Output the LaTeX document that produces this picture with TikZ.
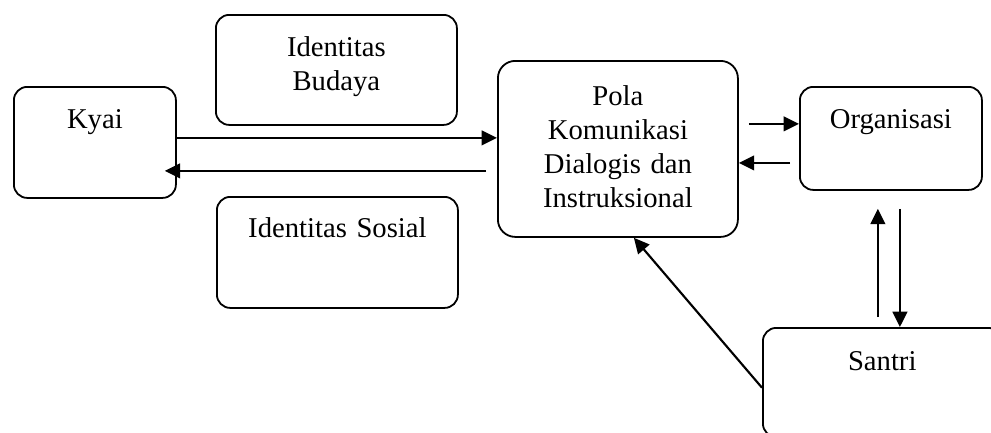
\documentclass[tikz,border=0pt]{standalone}
\usepackage{fontspec}
\setmainfont{Liberation Serif}
\usepackage{tikz}
\usetikzlibrary{arrows.meta, calc}

\begin{document}
\begin{tikzpicture}[
    x=0.75pt, y=-0.75pt,
    box/.style={rectangle, rounded corners=10pt, draw, line width=1.35pt,
      inner sep=0pt, anchor=north west, align=center,
      font=\fontsize{21.5}{25.5}\selectfont},
    arrow/.style={line width=1.6pt, -{Triangle[length=11.5pt, width=11pt]}}
]
\clip (0,0) rectangle (991,432);
\node[box, text width=121.5pt, text height=31.5pt, text depth=51.75pt] (kyai)   at (13,86)   {Kyai};
\node[box, text width=180.75pt, text height=31.5pt, text depth=51pt]  (budaya) at (215,14)  {Identitas\\Budaya};
\node[box, text width=180.75pt, text height=30.75pt, text depth=52.5pt] (sosial) at (216,196) {Identitas Sosial};
\node[box, rounded corners=13pt, text width=180pt, text height=33.75pt, text depth=98.25pt] (pola) at (497,60)
  {Pola\\Komunikasi\\Dialogis dan\\Instruksional};
\node[box, text width=136.5pt, text height=31.5pt, text depth=45.75pt] (org)    at (799,86)  {Organisasi};
\node[box, text width=179pt, text height=32.25pt, text depth=49.5pt]  (santri) at (762,327) {Santri};
% kyai <-> pola
\draw[arrow] ($(kyai.east |- pola.west)+(0,8.25pt)$) -- ($(pola.west)+(0,8.25pt)$);
\draw[arrow] ($(pola.west)+(-8.25pt,-16.5pt)$) -- ($(kyai.east |- pola.west)+(-9pt,-16.5pt)$);
% pola <-> organisasi
\draw[arrow] ($(pola.east |- org.west)+(7.5pt,10.9pt)$) -- ($(org.west)+(0,10.9pt)$);
\draw[arrow] ($(org.west)+(-6.75pt,-18.4pt)$) -- ($(pola.east |- org.west)+(0,-18.4pt)$);
% organisasi <-> santri
\draw[arrow] ($(org.south |- santri.north)+(-9.75pt,7.5pt)$) -- ($(org.south)+(-9.75pt,-13.5pt)$);
\draw[arrow] ($(org.south)+(6.75pt,-13.5pt)$) -- ($(org.south |- santri.north)+(6.75pt,0)$);
% santri -> pola
\draw[arrow] ($(santri.west)+(0,-4pt)$) -- ($(pola.south)+(12pt,0)$);
\end{tikzpicture}
\end{document}
